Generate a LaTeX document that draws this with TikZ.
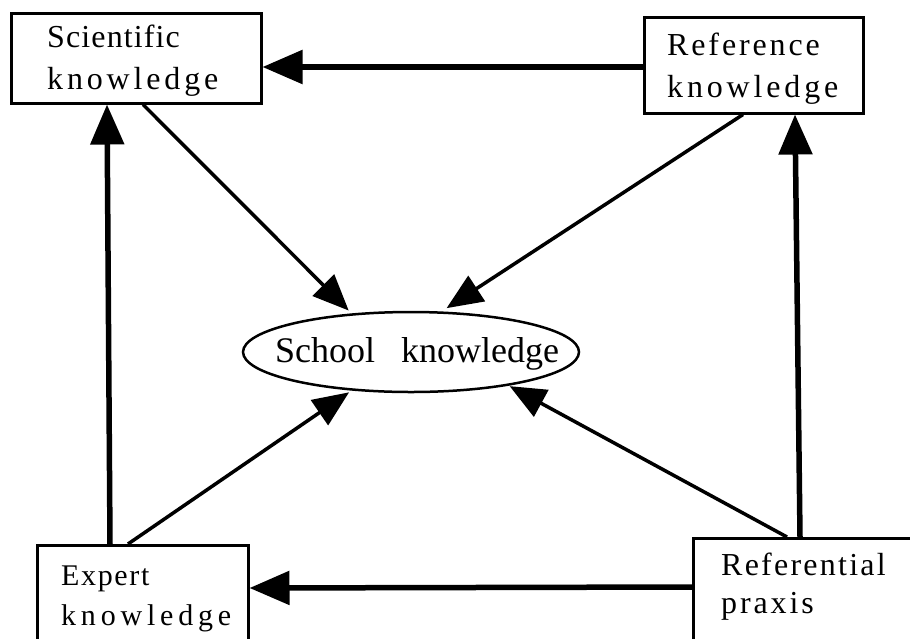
\documentclass[tikz,border=0pt]{standalone}
\usepackage{fontspec}
\setmainfont{Liberation Serif}
\usetikzlibrary{arrows.meta,shapes.geometric}
\newcommand{\lsp}[2]{{\addfontfeature{LetterSpace=#1}#2}}
\begin{document}
\begin{tikzpicture}[x=1pt,y=-1pt,
  box/.style={draw,line width=2.5pt,rectangle,inner sep=0pt,anchor=north west},
  lbl/.style={anchor=base west,inner sep=0pt,font=\fontsize{32}{38}\selectfont},
  schoolshape/.style={draw,ellipse,line width=2.5pt,inner sep=0pt,minimum width=336pt,minimum height=80pt},
  bigarrow/.style={line width=5.5pt,-{Triangle[length=40pt,width=33pt]}},
  diag/.style={line width=3.5pt,-{Triangle[length=36pt,width=30pt]}},
]
\clip (0,0) rectangle (910,638);
\fill[white] (0,0) rectangle (910,638);

% boxes
\node[box,minimum width=250pt,minimum height=90pt] (sci) at (10,12) {};
\node[box,minimum width=219pt,minimum height=96pt] (ref) at (643,16) {};
\node[box,minimum width=211pt,minimum height=120pt] (expert) at (36,544) {};
\node[box,minimum width=240pt,minimum height=130pt] (praxis) at (692,537) {};
\node[schoolshape] (school) at (411,352) {};

% texts
\node[lbl] (sciA) at (47,47) {\lsp{3.5}{Scientific}};
\node[lbl] (sciB) at (47,89) {\lsp{12}{knowledge}};
\node[lbl] (refA) at (667,55) {\lsp{9}{Reference}};
\node[lbl] (refB) at (667,97) {\lsp{12}{knowledge}};
\node[lbl,font=\fontsize{30}{36}\selectfont] (expA) at (61,585) {\lsp{5.5}{Expert}};
\node[lbl,font=\fontsize{30}{36}\selectfont] (expB) at (61,625) {\lsp{16}{knowledge}};
\node[lbl] (praA) at (721,575) {\lsp{7}{Referential}};
\node[lbl] (praB) at (721,613) {\lsp{9}{praxis}};
\node[anchor=base,inner sep=0pt,font=\fontsize{36}{40}\selectfont] (schoolt) at (417,362) {School\hspace{26pt}knowledge};

% thick connectors
\draw[bigarrow] (ref.west |- 0,67) -- (sci.east |- 0,67);
\draw[bigarrow] (praxis.west |- 0,587) -- (expert.east |- 0,588);
\draw[bigarrow] (expert.north -| 110,0) -- (sci.south -| 107,0);
\draw[bigarrow] (praxis.north -| 800,0) -- (ref.south -| 795,0);

% diagonal connectors
\draw[diag,shorten >=4pt] (sci.south -| 143,0) -- (school.147.6);
\draw[diag,shorten >=6pt] (ref.south -| 743,0) -- (school.53.6);
\draw[diag,shorten >=3pt] (expert.north -| 128,0) -- (school.213.9);
\draw[diag,shorten >=1pt] (praxis.north -| 787,0) -- (school.341.1);
\end{tikzpicture}
\end{document}
